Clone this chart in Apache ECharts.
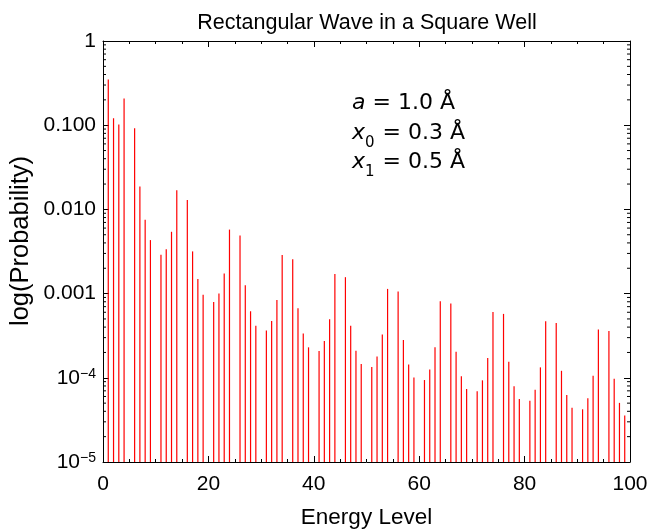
<!DOCTYPE html>
<html>
<head>
<meta charset="utf-8">
<script src="https://cdn.jsdelivr.net/npm/echarts@6/dist/echarts.min.js"></script>
<style>
  html, body { margin: 0; padding: 0; background: #fff; }
  #chart { width: 651px; height: 529px; }
</style>
</head>
<body>
<div id="chart"></div>
<script>
// ---- Data ----
const energyLevels = [
  1, 2, 3, 4, 6, 7, 8, 9, 11, 12, 13, 14, 16, 17, 18, 19,
  21, 22, 23, 24, 26, 27, 28, 29, 31, 32, 33, 34, 36, 37, 38, 39,
  41, 42, 43, 44, 46, 47, 48, 49, 51, 52, 53, 54, 56, 57, 58, 59,
  61, 62, 63, 64, 66, 67, 68, 69, 71, 72, 73, 74, 76, 77, 78, 79,
  81, 82, 83, 84, 86, 87, 88, 89, 91, 92, 93, 94, 96, 97, 98, 99
];
const probabilities = [
  0.350, 0.1209, 0.1018, 0.2072, 0.09210, 0.01870, 0.007559, 0.004322,
  0.002893, 0.003359, 0.005423, 0.01692, 0.01295, 0.003171, 0.001493, 0.0009697,
  0.0007938, 0.0009995, 0.001732, 0.005757, 0.004905, 0.001257, 0.0006170, 0.0004162,
  0.0003643, 0.0004724, 0.0008416, 0.002868, 0.002558, 0.0006694, 0.0003350, 0.0002301,
  0.0002082, 0.0002742, 0.0004956, 0.001713, 0.001567, 0.0004149, 0.0002100, 0.0001458,
  0.0001346, 0.0001789, 0.0003263, 0.001137, 0.001057, 0.0002821, 0.0001438, 0.0001006,
  0.00009408, 0.0001258, 0.0002309, 0.0008095, 0.0007612, 0.0002042, 0.0001046, 0.00007353,
  0.00006944, 0.00009332, 0.0001720, 0.0006055, 0.0005741, 0.0001546, 0.00007951, 0.00005609,
  0.00005335, 0.00007195, 0.0001330, 0.0004699, 0.0004483, 0.0001211, 0.00006247, 0.00004419,
  0.00004227, 0.00005716, 0.0001060, 0.0003753, 0.0003598, 0.00009740, 0.00005037, 0.00003572
];
// y tick labels keyed by decade exponent
const yTickLabels = { '0': '1', '-1': '0.100', '-2': '0.010', '-3': '0.001',
                      '-4': '10{sup|−4}', '-5': '10{sup|−5}' };
const titleText = 'Rectangular Wave in a Square Well';
const xTitle = 'Energy Level';
const yTitle = 'log(Probability)';
const annotations = [
  '{i|a} = 1.0 Å',
  '{i|x}{s|0} = 0.3 Å',
  '{i|x}{s|1} = 0.5 Å'
];

// ---- Build ----
const FONT = 'Liberation Sans';
const AFONT = 'DejaVu Sans';
const Y_MIN = 1e-5, Y_MAX = 1;

function yLabel(v) {
  const e = Math.round(Math.log10(v));
  const s = yTickLabels[String(e)];
  return s !== undefined ? s : '';
}

const minorTicks = [];
for (let e = -5; e < 0; e++) {
  for (let m = 2; m <= 9; m++) minorTicks.push([0, m * Math.pow(10, e)]);
}

const barData = energyLevels.map((n, i) => [n, probabilities[i]]);

const commonX = {
  type: 'value', min: 0, max: 100, interval: 20,
  axisLine: { show: true, onZero: false, lineStyle: { color: '#000', width: 1 } },
  axisTick: { show: true, inside: true, length: 6, lineStyle: { color: '#000' } },
  minorTick: { show: true, splitNumber: 4, length: 3, lineStyle: { color: '#000' } },
  splitLine: { show: false }, minorSplitLine: { show: false }
};
const commonY = {
  type: 'log', logBase: 10, min: Y_MIN, max: Y_MAX,
  axisLine: { show: true, onZero: false, lineStyle: { color: '#000', width: 1 } },
  axisTick: { show: true, inside: true, length: 6, lineStyle: { color: '#000' } },
  splitLine: { show: false }
};

const annoRich = {
  i: { fontStyle: 'italic', fontFamily: AFONT, fontSize: 22 },
  s: { fontFamily: AFONT, fontSize: 15, verticalAlign: 'bottom', lineHeight: 15, padding: [0, 1, -7, 0] }
};
const annoTops = [92, 122, 151];

const graphics = annotations.map((t, k) => ({
  type: 'text', left: 352, top: annoTops[k],
  style: { text: t, fontFamily: AFONT, fontSize: 22, fill: '#000', rich: annoRich }
}));
graphics.push({
  type: 'text', x: 21, y: 241, rotation: Math.PI / 2,
  style: { text: yTitle, fontFamily: FONT, fontSize: 25.5, fill: '#000', align: 'center', verticalAlign: 'middle' }
});

const option = {
  animation: false,
  backgroundColor: '#fff',
  title: {
    text: titleText, left: 362, top: 7, textAlign: 'center',
    textStyle: { fontFamily: FONT, fontSize: 21.5, fontWeight: 'normal', color: '#000' }
  },
  grid: { left: 103, right: 21, top: 41, bottom: 67, containLabel: false, outerBoundsMode: 'none' },
  xAxis: [
    Object.assign({}, commonX, {
      position: 'bottom',
      name: xTitle, nameLocation: 'middle', nameGap: 44,
      nameTextStyle: { fontFamily: FONT, fontSize: 22.5, color: '#000' },
      axisLabel: { fontFamily: FONT, fontSize: 21, color: '#000', margin: 12 }
    }),
    Object.assign({}, commonX, { position: 'top', axisLabel: { show: false } })
  ],
  yAxis: [
    Object.assign({}, commonY, {
      position: 'left',
      axisLabel: {
        fontFamily: FONT, fontSize: 21, color: '#000', margin: 7,
        formatter: yLabel,
        rich: { sup: { fontFamily: FONT, fontSize: 14, color: '#000', verticalAlign: 'top', lineHeight: 12 } }
      }
    }),
    Object.assign({}, commonY, { position: 'right', axisLabel: { show: false } })
  ],
  graphic: graphics,
  series: [
    {
      type: 'custom', name: 'probability', xAxisIndex: 0, yAxisIndex: 0,
      data: barData, clip: true, silent: true,
      renderItem: function (params, api) {
        const top = api.coord([api.value(0), api.value(1)]);
        const base = api.coord([api.value(0), Y_MIN]);
        return {
          type: 'line',
          shape: { x1: top[0], y1: base[1], x2: top[0], y2: top[1] },
          style: { stroke: '#ff0000', lineWidth: 1.2 }
        };
      }
    },
    {
      type: 'custom', name: 'yMinorTicks', xAxisIndex: 0, yAxisIndex: 0,
      data: minorTicks, silent: true, z: 5,
      renderItem: function (params, api) {
        const l = api.coord([0, api.value(1)]);
        const r = api.coord([100, api.value(1)]);
        return {
          type: 'group', children: [
            { type: 'line', shape: { x1: l[0], y1: l[1], x2: l[0] + 3, y2: l[1] }, style: { stroke: '#000', lineWidth: 1 } },
            { type: 'line', shape: { x1: r[0] - 3, y1: r[1], x2: r[0], y2: r[1] }, style: { stroke: '#000', lineWidth: 1 } }
          ]
        };
      }
    }
  ]
};

const chart = echarts.init(document.getElementById('chart'), null, { renderer: 'canvas' });
chart.setOption(option);
</script>
</body>
</html>
